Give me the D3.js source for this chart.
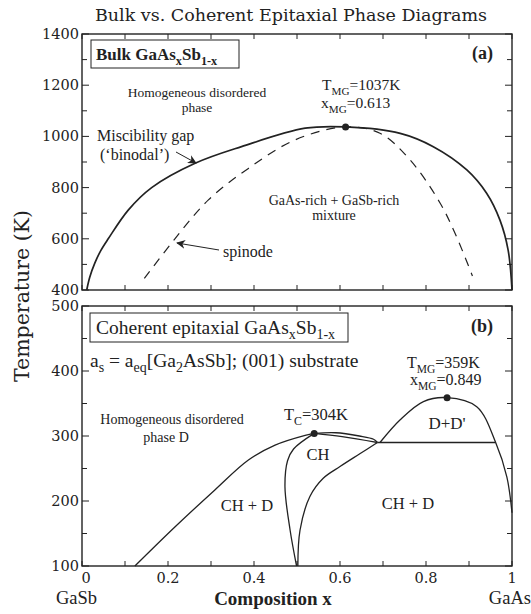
<!DOCTYPE html>
<html>
<head>
<meta charset="utf-8">
<script src="https://cdn.jsdelivr.net/npm/d3@7"></script>
<style>
  body { margin: 0; background: #fff; }
  text { font-family: "Liberation Serif", "Times New Roman", serif; fill: #222; }
  text.wide { font-family: "DejaVu Serif", serif; }
</style>
</head>
<body>
<svg id="chart" width="531" height="614"></svg>
<script>
// ---- data ----
// top panel (a): bulk
const binodal = [[0.011, 400], [0.018, 450], [0.030, 506], [0.044, 555], [0.061, 600], [0.108, 713],
  [0.162, 800], [0.263, 895], [0.371, 960], [0.519, 1032], [0.613, 1037], [0.740, 1012],
  [0.817, 960], [0.895, 869], [0.941, 778], [0.972, 673], [0.991, 556], [1.0, 400]];
const spinode = [[0.145, 445], [0.216, 600], [0.294, 752], [0.387, 875], [0.495, 986], [0.613, 1037],
  [0.693, 1012], [0.763, 908], [0.833, 739], [0.871, 608], [0.908, 455]];
const bulkCritical = [0.613, 1037];

// bottom panel (b): coherent epitaxial
const dBoundary = [[0.123, 100], [0.216, 160], [0.309, 217], [0.387, 263], [0.449, 286], [0.519, 301], [0.54, 304]];
const chLeft = [[0.54, 304], [0.492, 280], [0.478, 262], [0.472, 222], [0.484, 155], [0.499, 100]];
const chRight = [[0.502, 100], [0.507, 155], [0.53, 207], [0.561, 235], [0.60, 253], [0.647, 273], [0.687, 290]];
const lensUpper = [[0.54, 304], [0.59, 305], [0.645, 300], [0.678, 295], [0.687, 290]];
const lensLower = [[0.54, 304], [0.605, 299], [0.687, 290]];
const eutectoid = [[0.687, 290], [0.962, 290]];
const dome = [[0.693, 290], [0.74, 325], [0.794, 353], [0.849, 359], [0.918, 345], [0.962, 290],
  [0.988, 237], [1.0, 182]];
const tc = [0.54, 304];
const coherentCritical = [0.849, 359];

const xTicks = [0, 0.2, 0.4, 0.6, 0.8, 1];
const xTickLabels = ['0', '0.2', '0.4', '0.6', '0.8', '1'];
const yTicksTop = [400, 600, 800, 1000, 1200, 1400];
const yTicksBottom = [100, 200, 300, 400, 500];

// ---- layout ----
const svg = d3.select('#chart');
const left = 82, right = 512;

let x = d3.scaleLinear().domain([0, 1]).range([left, right]);
let yTop = d3.scaleLinear().domain([400, 1400]).range([290, 34]);
let yBot = d3.scaleLinear().domain([100, 500]).range([566, 306]);

svg.append('text')
  .attr('class', 'wide')
  .attr('x', 291).attr('y', 21)
  .attr('text-anchor', 'middle')
  .style('font-size', '17.5px')
  .text('Bulk vs. Coherent Epitaxial Phase Diagrams');

function drawFrame(y, major, minorStep) {
  let [y0, y1] = y.domain();
  let g = svg.append('g');
  g.append('rect')
    .attr('x', x(0)).attr('y', y(y1))
    .attr('width', x(1) - x(0)).attr('height', y(y0) - y(y1))
    .attr('fill', 'none').attr('stroke', '#222').attr('stroke-width', 1.4);

  // y ticks, both sides, inward
  let yMinor = d3.range(y0, y1 + 0.1, minorStep);
  yMinor.forEach(function (v) {
    let len = major.includes(v) ? 7 : 5;
    g.append('line').attr('x1', x(0)).attr('x2', x(0) + len)
      .attr('y1', y(v)).attr('y2', y(v)).attr('stroke', '#222');
    g.append('line').attr('x1', x(1)).attr('x2', x(1) - len)
      .attr('y1', y(v)).attr('y2', y(v)).attr('stroke', '#222');
  });
  // x ticks, top and bottom edges, inward
  d3.range(0, 1.001, 0.1).forEach(function (v) {
    let len = 5;
    g.append('line').attr('x1', x(v)).attr('x2', x(v))
      .attr('y1', y(y0)).attr('y2', y(y0) - len).attr('stroke', '#222');
    g.append('line').attr('x1', x(v)).attr('x2', x(v))
      .attr('y1', y(y1)).attr('y2', y(y1) + len).attr('stroke', '#222');
  });
  major.forEach(function (v) {
    g.append('text')
      .attr('class', 'wide')
      .attr('x', x(0) - 3).attr('y', y(v) + 5)
      .attr('text-anchor', 'end')
      .style('font-size', '14.5px')
      .text(v);
  });
}

drawFrame(yTop, yTicksTop, 100);
drawFrame(yBot, yTicksBottom, 50);

// x tick labels
xTicks.forEach(function (v, i) {
  svg.append('text')
    .attr('class', 'wide')
    .attr('x', x(v) + (i === 0 ? 4 : 0)).attr('y', 583)
    .attr('text-anchor', 'middle')
    .style('font-size', '14.5px')
    .text(xTickLabels[i]);
});

svg.append('text').attr('x', 56).attr('y', 604).style('font-size', '18.5px').text('GaSb');
svg.append('text').attr('x', 531).attr('y', 604).attr('text-anchor', 'end').style('font-size', '18.5px').text('GaAs');
svg.append('text').attr('x', 273).attr('y', 605).attr('text-anchor', 'middle')
  .style('font-size', '19px').style('font-weight', 'bold').text('Composition x');
svg.append('text')
  .attr('class', 'wide')
  .attr('transform', 'translate(29,296) rotate(-90)')
  .attr('text-anchor', 'middle')
  .style('font-size', '20.5px')
  .text('Temperature (K)');

// ---- curves ----
function path(data, y, dash) {
  let line = d3.line()
    .x(d => x(d[0]))
    .y(d => y(d[1]))
    .curve(d3.curveCatmullRom.alpha(0.5));
  return svg.append('path')
    .datum(data)
    .attr('fill', 'none')
    .attr('stroke', '#222')
    .attr('stroke-width', 1.3)
    .attr('stroke-dasharray', dash || null)
    .attr('d', line);
}

path(binodal, yTop).attr('stroke-width', 1.7);
path(spinode, yTop, '9,7').attr('stroke-width', 1.2);

path(dBoundary, yBot);
path(chLeft, yBot);
path(chRight, yBot);
path(lensUpper, yBot);
path(lensLower, yBot);
path(eutectoid, yBot);
path(dome, yBot);

svg.append('circle').attr('cx', x(bulkCritical[0])).attr('cy', yTop(bulkCritical[1])).attr('r', 3.5).attr('fill', '#222');
svg.append('circle').attr('cx', x(tc[0])).attr('cy', yBot(tc[1])).attr('r', 3.5).attr('fill', '#222');
svg.append('circle').attr('cx', x(coherentCritical[0])).attr('cy', yBot(coherentCritical[1])).attr('r', 3.5).attr('fill', '#222');

// ---- annotations ----
svg.append('defs').append('marker')
  .attr('id', 'arrowhead')
  .attr('viewBox', '0 -5 10 10')
  .attr('refX', 9)
  .attr('refY', 0)
  .attr('orient', 'auto')
  .attr('markerWidth', 9)
  .attr('markerHeight', 9)
  .attr('markerUnits', 'userSpaceOnUse')
  .append('path')
  .attr('d', 'M0,-5L10,0L0,5L3,0Z')
  .attr('fill', '#222');

function label(parts, px, py, size, anchor, weight) {
  let t = svg.append('text')
    .attr('x', px).attr('y', py)
    .attr('text-anchor', anchor || 'start')
    .style('font-size', size + 'px')
    .style('font-weight', weight || 'normal');
  let shift = 0;
  parts.forEach(function (p) {
    let s = typeof p === 'string' ? {t: p, d: 0} : p;
    t.append('tspan')
      .attr('dy', s.d - shift)
      .style('font-size', s.d !== 0 ? (size * 0.72) + 'px' : null)
      .text(s.t);
    shift = s.d;
  });
  return t;
}

// panel (a)
svg.append('rect').attr('x', 91).attr('y', 40).attr('width', 148).attr('height', 28)
  .attr('fill', 'none').attr('stroke', '#222').attr('stroke-width', 1);
label(['Bulk GaAs', {t: 'x', d: 5}, 'Sb', {t: '1-x', d: 5}], 96, 60, 17, 'start', 'bold');
label(['(a)'], 493, 59, 18, 'end', 'bold');

label(['Homogeneous disordered'], 197, 97, 13.5, 'middle');
label(['phase'], 197, 112, 13.5, 'middle');
label(['T', {t: 'MG', d: 5}, '=1037K'], 322, 90, 15.5);
label(['x', {t: 'MG', d: 5}, '=0.613'], 321, 108, 15.5);

label(['Miscibility gap'], 97, 141, 16);
label(['(\u2018binodal\u2019)'], 100, 160, 16);
svg.append('line').attr('x1', 176).attr('y1', 152).attr('x2', 196).attr('y2', 163)
  .attr('stroke', '#222').attr('stroke-width', 1).attr('marker-end', 'url(#arrowhead)');

label(['GaAs-rich + GaSb-rich'], 334, 205, 14, 'middle');
label(['mixture'], 334, 220, 14, 'middle');

label(['spinode'], 223, 257, 16);
svg.append('line').attr('x1', 219).attr('y1', 250).attr('x2', 177).attr('y2', 243)
  .attr('stroke', '#222').attr('stroke-width', 1).attr('marker-end', 'url(#arrowhead)');

// panel (b)
svg.append('rect').attr('x', 90).attr('y', 313).attr('width', 258).attr('height', 29)
  .attr('fill', 'none').attr('stroke', '#222').attr('stroke-width', 1);
label(['Coherent epitaxial GaAs', {t: 'x', d: 5}, 'Sb', {t: '1-x', d: 5}], 96, 334, 19.5);
label(['(b)'], 493, 332, 18, 'end', 'bold');

label(['a', {t: 's', d: 5}, ' = a', {t: 'eq', d: 5}, '[Ga', {t: '2', d: 5}, 'AsSb]; (001) substrate'], 90, 367, 19.5);
label(['T', {t: 'MG', d: 5}, '=359K'], 407, 368, 16);
label(['x', {t: 'MG', d: 5}, '=0.849'], 410, 385, 16);
label(['T', {t: 'C', d: 5}, '=304K'], 284, 420, 16.5);

label(['Homogeneous disordered'], 172, 424, 14, 'middle');
label(['phase D'], 166, 442, 14, 'middle');
label(["D+D'"], 447, 429, 17, 'middle');
label(['CH'], 318, 460, 16.5, 'middle');
label(['CH + D'], 247, 511, 16.5, 'middle');
label(['CH + D'], 408, 509, 16.5, 'middle');
</script>
</body>
</html>
